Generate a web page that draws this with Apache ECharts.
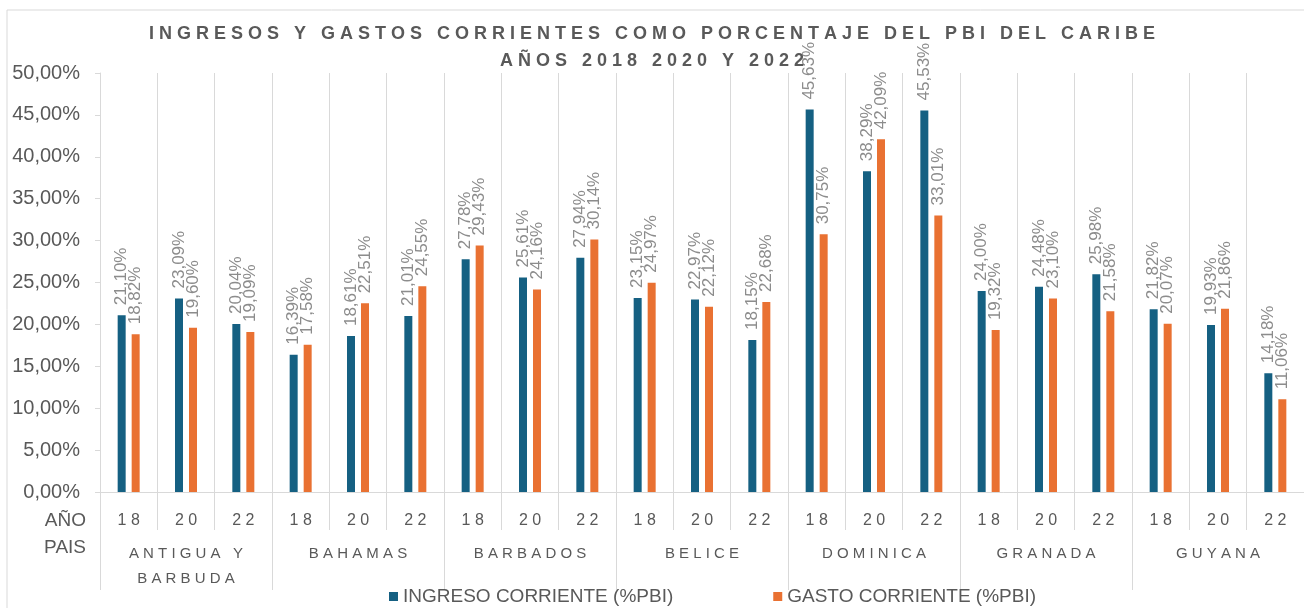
<!DOCTYPE html>
<html>
<head>
<meta charset="utf-8">
<script src="https://cdn.jsdelivr.net/npm/echarts@6/dist/echarts.min.js"></script>
<style>
  html, body { margin: 0; padding: 0; background: #fff; }
  #chart { width: 1304px; height: 608px; }
</style>
</head>
<body>
<div id="chart"></div>
<script>
// datos
const years = ['18', '20', '22', '18', '20', '22', '18', '20', '22', '18', '20', '22', '18', '20', '22', '18', '20', '22', '18', '20', '22']
const countries = ['ANTIGUA Y\nBARBUDA', 'BAHAMAS', 'BARBADOS', 'BELICE', 'DOMINICA', 'GRANADA', 'GUYANA']
const ingreso = [21.10, 23.09, 20.04, 16.39, 18.61, 21.01, 27.78, 25.61, 27.94, 23.15, 22.97, 18.15, 45.63, 38.29, 45.53, 24.00, 24.48, 25.98, 21.82, 19.93, 14.18]
const gasto = [18.82, 19.60, 19.09, 17.58, 22.51, 24.55, 29.43, 24.16, 30.14, 24.97, 22.12, 22.68, 30.75, 42.09, 33.01, 19.32, 23.10, 21.58, 20.07, 21.86, 11.06]
const yTicks = [0, 5, 10, 15, 20, 25, 30, 35, 40, 45, 50]

const gris = '#595959'
const linea = '#d9d9d9'
const font = "'Liberation Sans', Arial, sans-serif"

// separa las letras (Excel usa espaciado entre caracteres)
function spaced (s) {
  return s.split('\n').map(l => l.split('').join(' ')).join('\n')
}
function pct (v) {
  return v.toFixed(2).replace('.', ',') + '%'
}

const myChart = echarts.init(document.getElementById('chart'))

const labelOpt = {
  show: true,
  position: 'top',
  rotate: 90,
  align: 'left',
  verticalAlign: 'middle',
  distance: 10,
  fontSize: 17,
  fontFamily: font,
  color: '#8c8c8c',
  formatter: p => pct(p.value)
}

myChart.setOption({
  animation: false,
  textStyle: { fontFamily: font },
  title: {
    text: spaced('INGRESOS Y GASTOS CORRIENTES COMO PORCENTAJE DEL PBI DEL CARIBE') + '\n' + spaced('AÑOS 2018 2020 Y 2022'),
    left: 'center',
    top: 16,
    textStyle: {
      fontSize: 18,
      fontWeight: 'bold',
      color: gris,
      lineHeight: 27,
      fontFamily: font
    }
  },
  legend: {
    left: 384,
    top: 582,
    icon: 'rect',
    itemWidth: 9,
    itemHeight: 9,
    itemGap: 100,
    textStyle: { fontSize: 19, color: gris, fontFamily: font },
    data: ['INGRESO CORRIENTE (%PBI)', 'GASTO CORRIENTE (%PBI)']
  },
  grid: {
    left: 100,
    right: -10,
    top: 73,
    bottom: 116
  },
  xAxis: [
    {
      type: 'category',
      data: years,
      position: 'bottom',
      axisLine: { show: true, lineStyle: { color: linea } },
      axisTick: { show: true, interval: 0, length: 38, lineStyle: { color: linea } },
      splitLine: { show: true, interval: 0, lineStyle: { color: linea } },
      axisLabel: {
        interval: 0,
        margin: 21,
        fontSize: 16,
        color: gris,
        verticalAlign: 'top',
        formatter: v => spaced(v)
      }
    },
    {
      type: 'category',
      data: countries,
      position: 'bottom',
      axisLine: { show: false },
      axisTick: { show: true, interval: 0, length: 98, lineStyle: { color: linea } },
      splitLine: { show: false },
      axisLabel: {
        interval: 0,
        margin: 49,
        fontSize: 15,
        lineHeight: 25,
        color: gris,
        verticalAlign: 'top',
        formatter: v => spaced(v)
      }
    }
  ],
  yAxis: {
    type: 'value',
    min: yTicks[0],
    max: yTicks[yTicks.length - 1],
    interval: 5,
    axisLine: { show: true, lineStyle: { color: linea } },
    axisTick: { show: true, length: 5, lineStyle: { color: linea } },
    splitLine: { show: false },
    axisLabel: {
      margin: 20,
      fontSize: 20,
      color: gris,
      formatter: v => pct(v)
    }
  },
  graphic: [
    {
      type: 'rect',
      shape: { x: 7, y: 10, width: 1320, height: 620 },
      style: { fill: 'none', stroke: linea, lineWidth: 1 },
      silent: true
    },
    {
      type: 'text',
      x: 86,
      y: 521,
      style: { text: 'AÑO', fill: gris, fontSize: 19, fontFamily: font, align: 'right', verticalAlign: 'middle' }
    },
    {
      type: 'text',
      x: 86,
      y: 548,
      style: { text: 'PAIS', fill: gris, fontSize: 19, fontFamily: font, align: 'right', verticalAlign: 'middle' }
    }
  ],
  series: [
    {
      name: 'INGRESO CORRIENTE (%PBI)',
      type: 'bar',
      data: ingreso,
      barWidth: 8,
      barGap: '75%',
      itemStyle: { color: '#156082' },
      label: labelOpt
    },
    {
      name: 'GASTO CORRIENTE (%PBI)',
      type: 'bar',
      data: gasto,
      barWidth: 8,
      itemStyle: { color: '#E97132' },
      label: labelOpt
    }
  ]
})

window.addEventListener('resize', () => {
  myChart.resize()
})
</script>
</body>
</html>
